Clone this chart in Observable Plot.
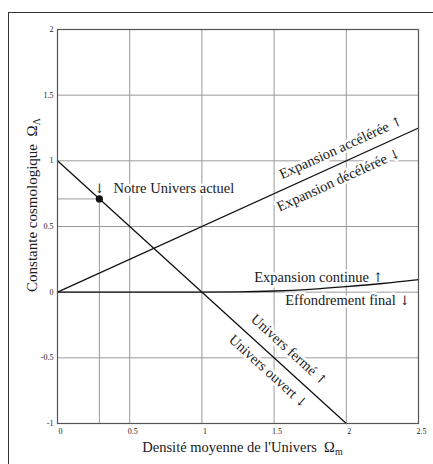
<!DOCTYPE html>
<html><head><meta charset="utf-8">
<script src="https://cdn.jsdelivr.net/npm/d3@7"></script>
<script src="https://cdn.jsdelivr.net/npm/@observablehq/plot@0.6"></script>
<style>
html,body{margin:0;padding:0;background:#fff;}
#wrap{position:relative;width:433px;height:464px;overflow:hidden;background:#fff;}
#border{position:absolute;left:8px;top:12px;width:470px;height:500px;border:1.5px solid #333;pointer-events:none;}
</style></head><body>
<div id="wrap"><div id="chart"></div><div id="border"></div></div>
<script>
// Tick values
const xTicks = [0, 0.5, 1, 1.5, 2, 2.5];
const yTicks = [-1, -0.5, 0, 0.5, 1, 1.5, 2];
// Flat universe line (closed / open boundary)
const flatM = [0, 2];
const flatL = [1, -1];
// Acceleration / deceleration boundary
const accM = [0, 2.5];
const accL = [0, 1.25];
// Eternal expansion / recollapse boundary
const collM = [0, 1, 1.25, 1.5, 1.75, 2, 2.25, 2.5];
const collL = [0, 0, 0.002, 0.009, 0.022, 0.042, 0.066, 0.096];
// Our Universe
const nowM = [0.29];
const nowL = [0.71];
// Labels
const labels = ["↓", "Notre Univers actuel", "Expansion accélérée ↑", "Expansion décélérée ↓",
  "Expansion continue ↑", "Effondrement final ↓", "Univers fermé ↑", "Univers ouvert ↓"];

const toRows = (xs, ys) => xs.map((m, i) => ({m, l: ys[i]}));
const flat = toRows(flatM, flatL);
const acc = toRows(accM, accL);
const coll = toRows(collM, collL);
const now = toRows(nowM, nowL);

const gridStyle = {stroke: "#9a9a9a", strokeOpacity: 1, strokeWidth: 1};
const txt = (label, opts) => Plot.text([label], {
  text: d => d, fontSize: 14.5, fill: "#1a1a1a", stroke: "white", strokeWidth: 5,
  lineAnchor: "bottom", textAnchor: "middle", ...opts
});
const lineStyle = {x: "m", y: "l", stroke: "#111", strokeWidth: 1.3};

const chart = Plot.plot({
  width: 433, height: 464,
  marginLeft: 57, marginRight: 15, marginTop: 29, marginBottom: 41,
  x: {domain: [0, 2.5]},
  y: {domain: [-1, 2]},
  style: {fontFamily: "'Liberation Serif', 'Times New Roman', serif", color: "#222", background: "transparent"},
  marks: [
    Plot.gridX(xTicks, gridStyle),
    Plot.gridY(yTicks, gridStyle),
    Plot.ruleY(now, {y: "l", x1: 0, x2: "m", ...gridStyle}),
    Plot.ruleX(now, {x: "m", y1: -1, y2: "l", ...gridStyle}),
    Plot.axisX(xTicks, {tickSize: 0, tickPadding: 5, fontSize: 8, label: null, dx: 3, tickFormat: d => String(d)}),
    Plot.axisY(yTicks, {tickSize: 0, tickPadding: 4, fontSize: 8, label: null, tickFormat: d => String(d)}),
    txt(labels[0], {x: nowM[0], y: 0.755, stroke: null}),
    txt(labels[1], {x: 0.388, y: 0.755, textAnchor: "start"}),
    txt(labels[2], {x: 1.975, y: 1.07, rotate: -24.5}),
    txt(labels[3], {x: 1.96, y: 0.824, rotate: -24.5}),
    txt(labels[4], {x: 1.81, y: 0.078}),
    txt(labels[5], {x: 2.01, y: -0.099}),
    txt(labels[6], {x: 1.583, y: -0.464, rotate: 42.3}),
    txt(labels[7], {x: 1.439, y: -0.628, rotate: 42.3}),
    Plot.line(flat, lineStyle),
    Plot.line(acc, lineStyle),
    Plot.line(coll, {...lineStyle, curve: "monotone-x"}),
    Plot.dot(now, {x: "m", y: "l", r: 3.6, fill: "#111", stroke: "none"}),
    Plot.frame({stroke: "#555", strokeWidth: 1.2})
  ]
});
document.getElementById("chart").appendChild(chart);

const svg = d3.select(chart);
// Draw the arrow glyphs with a font that has full-size arrows
svg.selectAll("text").each(function() {
  const s = this.textContent;
  const m = s.match(/[↑↓]/);
  if (!m || this.childElementCount) return;
  const before = s.slice(0, m.index), arrow = m[0], after = s.slice(m.index + 1);
  this.textContent = "";
  const t = d3.select(this);
  if (before) t.append("tspan").text(before);
  t.append("tspan").attr("font-family", "'DejaVu Serif', serif").attr("font-size", 13).text(arrow);
  if (after) t.append("tspan").text(after);
});

// Axis titles with subscripts
const xr = chart.scale("x").range, yr = chart.scale("y").range;
const xt = svg.append("text")
  .attr("x", d3.mean(xr) + 5).attr("y", 452)
  .attr("text-anchor", "middle").attr("font-size", 14.5).attr("fill", "#1a1a1a");
xt.append("tspan").text("Densité moyenne de l'Univers\u00a0\u00a0Ω");
xt.append("tspan").attr("font-size", 10).attr("dy", 3).text("m");

const yt = svg.append("text")
  .attr("transform", `translate(36.5,${d3.mean(yr) - 21}) rotate(-90)`)
  .attr("text-anchor", "middle").attr("font-size", 15).attr("fill", "#1a1a1a");
yt.append("tspan").text("Constante cosmologique\u00a0\u00a0Ω");
yt.append("tspan").attr("font-size", 10).attr("dy", 3).text("Λ");
</script></body></html>
